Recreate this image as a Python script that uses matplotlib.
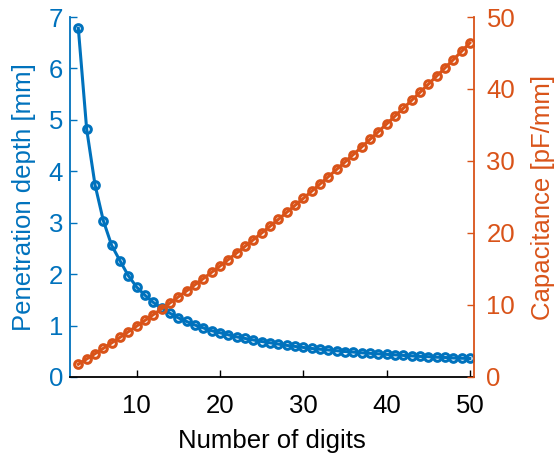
import matplotlib
matplotlib.use("Agg")
import matplotlib.pyplot as plt
import numpy as np

plt.rcParams['font.family'] = ['Liberation Sans', 'DejaVu Sans']

# number of digits, 3..50
digits = list(range(3, 51))

depth_mm = [6.78, 4.82, 3.74, 3.04, 2.56, 2.26, 1.97, 1.75, 1.59, 1.45,
            1.34, 1.24, 1.15, 1.08, 1.01, 0.955, 0.90, 0.86, 0.82, 0.78,
            0.75, 0.72, 0.69, 0.665, 0.64, 0.615, 0.595, 0.575, 0.555, 0.54,
            0.525, 0.51, 0.495, 0.485, 0.47, 0.46, 0.45, 0.44, 0.43, 0.42,
            0.41, 0.40, 0.395, 0.385, 0.38, 0.37, 0.365, 0.36]

cap_pf_mm = [1.77, 2.50, 3.24, 3.98, 4.74, 5.50, 6.28, 7.06, 7.86, 8.66,
             9.47, 10.29, 11.12, 11.96, 12.81, 13.67, 14.54, 15.41, 16.31, 17.22,
             18.13, 19.06, 19.99, 20.93, 21.88, 22.85, 23.82, 24.80, 25.79, 26.79,
             27.80, 28.82, 29.85, 30.89, 31.93, 32.99, 34.05, 35.13, 36.22, 37.31,
             38.41, 39.52, 40.64, 41.77, 42.91, 44.06, 45.22, 46.40]

blue = '#0072BD'
orange = '#D95319'
fs = 18.5

fig = plt.figure(figsize=(5.55, 4.55), dpi=100)
ax = fig.add_axes([70/555, 78/455, 404/555, 360/455])
ax2 = ax.twinx()

ax.plot(digits, depth_mm, '-o', color=blue, lw=2.2, ms=5.5, mfc='none', mew=2.2)
ax2.plot(digits, cap_pf_mm, '-o', color=orange, lw=2.2, ms=5.5, mfc='none', mew=2.2)

ax.set_xlim(2, 50.5)
ax.set_ylim(0, 7)
ax2.set_ylim(0, 50)
ax.set_xticks([10, 20, 30, 40, 50])
ax.set_yticks(range(0, 8))
ax2.set_yticks(range(0, 51, 10))

for a in (ax, ax2):
    a.spines['top'].set_visible(False)
ax.spines['right'].set_visible(False)
ax2.spines['left'].set_visible(False)
ax2.spines['bottom'].set_visible(False)
ax.spines['left'].set_color(blue)
ax2.spines['right'].set_color(orange)
for s in (ax.spines['left'], ax.spines['bottom'], ax2.spines['right']):
    s.set_linewidth(1.3)

ax.tick_params(axis='x', direction='in', length=5, width=1, labelsize=fs, pad=12, colors='black')
ax.tick_params(axis='y', direction='in', length=5, width=1, labelsize=fs, pad=5, colors=blue)
ax2.tick_params(axis='y', direction='in', length=5, width=1, labelsize=fs, pad=9, colors=orange)

ax.set_xlabel('Number of digits', fontsize=fs, labelpad=8)
ax.set_ylabel('Penetration depth [mm]', fontsize=fs, color=blue, labelpad=9)
ax2.set_ylabel('Capacitance [pF/mm]', fontsize=fs, color=orange, labelpad=11)

fig.savefig('out.png', dpi=100)
